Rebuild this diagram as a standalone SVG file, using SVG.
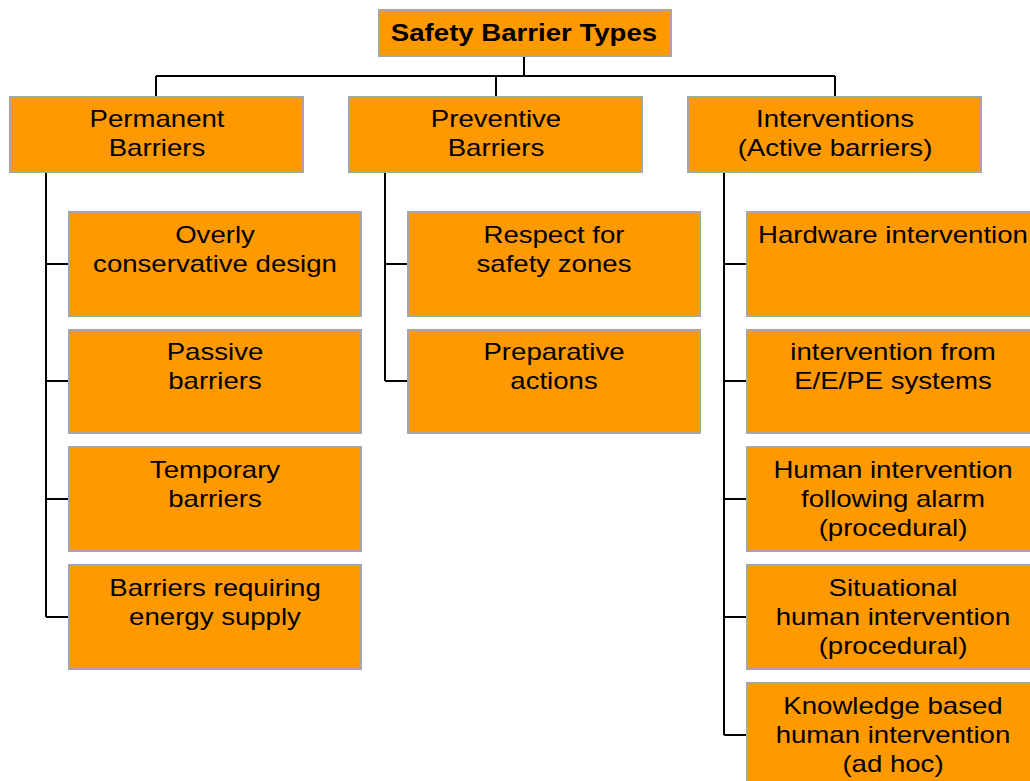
<svg xmlns="http://www.w3.org/2000/svg" width="1030" height="781" viewBox="0 0 1030 781">
<style>
.box{fill:#ff9900;stroke:#a6a6a6;stroke-width:2}
.t{font-family:"Liberation Sans",Arial,sans-serif;font-size:23px;fill:#000;text-anchor:middle}
.b{font-weight:bold}
.c{fill:none;stroke:#000;stroke-width:2}
</style>
<rect width="1030" height="781" fill="#fff"/>
<g id="connectors" class="c">
<path d="M524 56V76M156 76H835M156 76V97M496 76V97M835 76V97"/>
<path d="M46 172V617M46 264H69M46 381H69M46 499H69M46 617H69"/>
<path d="M385 172V381M385 264H408M385 381H408"/>
<path d="M724 172V735M724 264H747M724 381H747M724 499H747M724 617H747M724 735H747"/>
</g>
<g id="root"><rect class="box" x="379" y="10" width="292" height="46"/>
<text class="t b" transform="translate(524,41) scale(1.2,1)" x="0" y="0">Safety Barrier Types</text></g>
<g id="permanent"><rect class="box" x="10" y="97" width="293" height="75"/>
<text class="t" transform="translate(157,0) scale(1.2,1)"><tspan x="0" y="127">Permanent</tspan><tspan x="0" y="156">Barriers</tspan></text></g>
<g id="preventive"><rect class="box" x="349" y="97" width="293" height="75"/>
<text class="t" transform="translate(496,0) scale(1.2,1)"><tspan x="0" y="127">Preventive</tspan><tspan x="0" y="156">Barriers</tspan></text></g>
<g id="interventions"><rect class="box" x="688" y="97" width="293" height="75"/>
<text class="t" transform="translate(835,0) scale(1.2,1)"><tspan x="0" y="127">Interventions</tspan><tspan x="0" y="156">(Active barriers)</tspan></text></g>

<g id="overly"><rect class="box" x="69" y="212" width="292" height="104"/>
<text class="t" transform="translate(215,0) scale(1.2,1)"><tspan x="0" y="243">Overly</tspan><tspan x="0" y="272">conservative design</tspan></text></g>
<g id="passive"><rect class="box" x="69" y="330" width="292" height="103"/>
<text class="t" transform="translate(215,0) scale(1.2,1)"><tspan x="0" y="360">Passive</tspan><tspan x="0" y="389">barriers</tspan></text></g>
<g id="temporary"><rect class="box" x="69" y="447" width="292" height="104"/>
<text class="t" transform="translate(215,0) scale(1.2,1)"><tspan x="0" y="478">Temporary</tspan><tspan x="0" y="507">barriers</tspan></text></g>
<g id="energy"><rect class="box" x="69" y="565" width="292" height="104"/>
<text class="t" transform="translate(215,0) scale(1.2,1)"><tspan x="0" y="596">Barriers requiring</tspan><tspan x="0" y="625">energy supply</tspan></text></g>

<g id="respect"><rect class="box" x="408" y="212" width="292" height="104"/>
<text class="t" transform="translate(554,0) scale(1.2,1)"><tspan x="0" y="243">Respect for</tspan><tspan x="0" y="272">safety zones</tspan></text></g>
<g id="preparative"><rect class="box" x="408" y="330" width="292" height="103"/>
<text class="t" transform="translate(554,0) scale(1.2,1)"><tspan x="0" y="360">Preparative</tspan><tspan x="0" y="389">actions</tspan></text></g>

<g id="hardware"><rect class="box" x="747" y="212" width="293" height="104"/>
<text class="t" transform="translate(893,0) scale(1.2,1)"><tspan x="0" y="243">Hardware intervention</tspan></text></g>
<g id="eepe"><rect class="box" x="747" y="330" width="293" height="103"/>
<text class="t" transform="translate(893,0) scale(1.2,1)"><tspan x="0" y="360">intervention from</tspan><tspan x="0" y="389">E/E/PE systems</tspan></text></g>
<g id="alarm"><rect class="box" x="747" y="447" width="293" height="104"/>
<text class="t" transform="translate(893,0) scale(1.2,1)"><tspan x="0" y="478">Human intervention</tspan><tspan x="0" y="507">following alarm</tspan><tspan x="0" y="536">(procedural)</tspan></text></g>
<g id="situational"><rect class="box" x="747" y="565" width="293" height="104"/>
<text class="t" transform="translate(893,0) scale(1.2,1)"><tspan x="0" y="596">Situational</tspan><tspan x="0" y="625">human intervention</tspan><tspan x="0" y="654">(procedural)</tspan></text></g>
<g id="knowledge"><rect class="box" x="747" y="683" width="293" height="110"/>
<text class="t" transform="translate(893,0) scale(1.2,1)"><tspan x="0" y="714">Knowledge based</tspan><tspan x="0" y="743">human intervention</tspan><tspan x="0" y="772">(ad hoc)</tspan></text></g>
</svg>
